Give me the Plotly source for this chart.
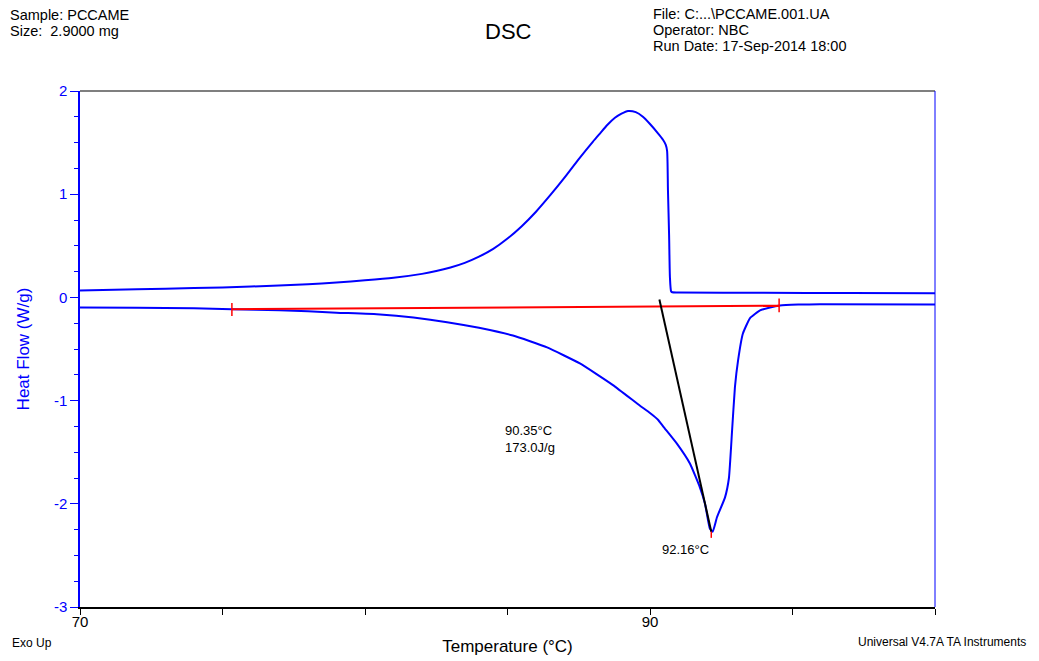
import plotly.graph_objects as go

# Exothermic (upper) trace: temperature (°C) and heat flow (W/g)
temp_upper = [70, 72, 74, 76, 78, 79, 80, 81, 82, 82.5, 83, 83.5, 84, 84.5, 85, 85.5,
              86, 86.5, 87, 87.5, 88, 88.25, 88.5, 88.77, 89, 89.23, 89.5, 89.75,
              90.0, 90.28, 90.45, 90.55, 90.6, 90.63, 90.67, 90.7, 90.74, 90.78, 91,
              94, 97, 100]
flow_upper = [0.068, 0.078, 0.09, 0.105, 0.128, 0.145, 0.165, 0.19, 0.228, 0.255,
              0.29, 0.335, 0.395, 0.47, 0.57, 0.69, 0.83, 0.99, 1.16, 1.34, 1.51,
              1.59, 1.67, 1.74, 1.78, 1.806, 1.795, 1.75, 1.68, 1.59, 1.53, 1.48,
              1.42, 1.04, 0.60, 0.19, 0.06, 0.05, 0.048, 0.045, 0.042, 0.04]

# Endothermic (lower) trace
temp_lower = [70, 72, 74, 75.33, 77, 78, 79, 80.53, 81.7, 82.88, 84.0, 85.19, 86.39,
              87.54, 88.70, 89.65, 90.0, 90.28, 90.46, 90.95, 91.40, 91.75, 91.93,
              92.1, 92.2, 92.35, 92.63, 92.77, 92.88, 92.98, 93.09, 93.26, 93.51,
              93.86, 94.21, 94.56, 95.2, 95.96, 100]
flow_lower = [-0.097, -0.10, -0.105, -0.115, -0.125, -0.135, -0.148, -0.165, -0.195,
              -0.24, -0.295, -0.37, -0.485, -0.64, -0.85, -1.05, -1.12, -1.185, -1.25,
              -1.42, -1.61, -1.84, -2.0, -2.24, -2.27, -2.13, -1.94, -1.75, -1.29,
              -0.87, -0.61, -0.35, -0.20, -0.126, -0.097, -0.078, -0.07, -0.066, -0.068]

# Integration baseline and onset tangent
baseline_temp = [75.33, 94.53]
baseline_flow = [-0.115, -0.08]
tangent_temp = [90.33, 92.15]
tangent_flow = [-0.02, -2.27]

# Limit markers (red ticks)
limit_left_temp = [75.33, 75.33]
limit_left_flow = [-0.055, -0.18]
limit_right_temp = [94.53, 94.53]
limit_right_flow = [-0.01, -0.145]
peak_mark_temp = [92.15, 92.15]
peak_mark_flow = [-2.27, -2.33]

onset_label = "90.35°C<br>173.0J/g"
peak_label = "92.16°C"

x_ticks = [70, 75, 80, 85, 90, 95, 100]
x_ticktext = ["70", "", "", "", "90", "", ""]
y_ticks = [-3, -2, -1, 0, 1, 2]
y_ticktext = ["-3", "-2", "-1", "0", "1", "2"]

FONT = "Liberation Sans, Arial, sans-serif"
BLUE = "#0000FF"
RED = "#FF0000"

fig = go.Figure()
fig.add_trace(go.Scatter(x=temp_upper, y=flow_upper, mode="lines",
                         line=dict(color=BLUE, width=2, shape="spline", smoothing=0.6),
                         hoverinfo="skip"))
fig.add_trace(go.Scatter(x=temp_lower, y=flow_lower, mode="lines",
                         line=dict(color=BLUE, width=2, shape="spline", smoothing=0.4),
                         hoverinfo="skip"))
fig.add_trace(go.Scatter(x=baseline_temp, y=baseline_flow, mode="lines",
                         line=dict(color=RED, width=2), hoverinfo="skip"))
fig.add_trace(go.Scatter(x=tangent_temp, y=tangent_flow, mode="lines",
                         line=dict(color="black", width=2), hoverinfo="skip"))
for tx, ty in [(limit_left_temp, limit_left_flow),
               (limit_right_temp, limit_right_flow),
               (peak_mark_temp, peak_mark_flow)]:
    fig.add_trace(go.Scatter(x=tx, y=ty, mode="lines",
                             line=dict(color=RED, width=1.5), hoverinfo="skip"))

# Header / footer texts, positioned in pixels and converted to paper coordinates
PLOT_L, PLOT_W, PLOT_B, PLOT_H = 80, 855, 607, 516
header = [
    ("Sample: PCCAME", 8, 15, "left", 14.5),
    ("Size:  2.9000 mg", 8, 31, "left", 14.5),
    ("DSC", 508, 31, "center", 22),
    ("File: C:...\\PCCAME.001.UA", 651, 14, "left", 14.5),
    ("Operator: NBC", 651, 30, "left", 14.5),
    ("Run Date: 17-Sep-2014 18:00", 651, 46, "left", 14.5),
    ("Exo Up", 10, 643, "left", 12),
    ("Universal V4.7A TA Instruments", 1028, 642, "right", 12),
]
annotations = []
for text, px, py, anchor, size in header:
    annotations.append(dict(
        text=text, xref="paper", yref="paper", showarrow=False,
        x=(px - PLOT_L) / PLOT_W, y=(PLOT_B - py) / PLOT_H,
        xanchor=anchor, yanchor="middle",
        font=dict(family=FONT, size=size, color="black")))

annotations += [
    dict(text=onset_label, x=84.84, y=-1.37, xref="x", yref="y", showarrow=False,
         xanchor="left", yanchor="middle", align="left",
         font=dict(family=FONT, size=13, color="black")),
    dict(text=peak_label, x=91.26, y=-2.44, xref="x", yref="y", showarrow=False,
         xanchor="center", yanchor="middle",
         font=dict(family=FONT, size=13, color="black")),
]

fig.update_layout(
    width=1039, height=661,
    margin=dict(l=80, r=104, t=91, b=54),
    paper_bgcolor="white", plot_bgcolor="white",
    showlegend=False,
    font=dict(family=FONT),
    annotations=annotations,
    shapes=[
        dict(type="line", xref="paper", yref="paper", x0=0, x1=1, y0=1, y1=1,
             line=dict(color="#555555", width=1.5)),
        dict(type="line", xref="paper", yref="paper", x0=1, x1=1, y0=0, y1=1,
             line=dict(color=BLUE, width=1)),
    ],
    xaxis=dict(
        range=[70, 100], tickmode="array", tickvals=x_ticks, ticktext=x_ticktext,
        ticks="outside", ticklen=6, tickcolor="black", showline=True,
        linecolor="black", linewidth=1.5, showgrid=False, zeroline=False,
        automargin=False, ticklabelstandoff=-6,
        tickfont=dict(family=FONT, size=15, color="black"),
        title=dict(text="Temperature (°C)", standoff=11,
                   font=dict(family=FONT, size=17, color="black")),
    ),
    yaxis=dict(
        range=[-3, 2], tickmode="array", tickvals=y_ticks, ticktext=y_ticktext,
        ticks="outside", ticklen=8, tickcolor=BLUE, showline=True,
        linecolor=BLUE, linewidth=1.5, showgrid=False, zeroline=False,
        automargin=False,
        minor=dict(dtick=0.25, ticks="outside", ticklen=4, tickcolor=BLUE, showgrid=False),
        tickfont=dict(family=FONT, size=15, color=BLUE),
        title=dict(text="Heat Flow (W/g)", standoff=20,
                   font=dict(family=FONT, size=17, color=BLUE)),
    ),
)

fig.write_html("out.html")
